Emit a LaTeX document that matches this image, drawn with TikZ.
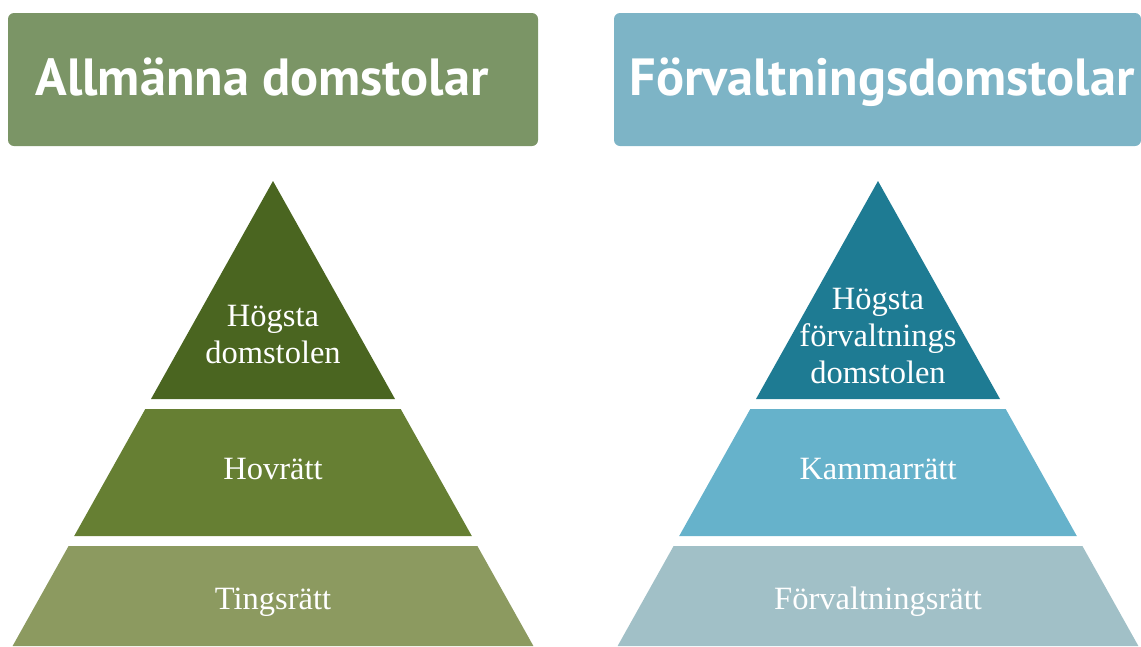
\documentclass[tikz,border=0pt]{standalone}
\usepackage{fontspec}
\usetikzlibrary{fit}
\setmainfont{Liberation Serif}
\newfontfamily\headfont{PT Sans}

\definecolor{allmhead}{HTML}{7B9566}
\definecolor{allmtop}{HTML}{4A6520}
\definecolor{allmmid}{HTML}{667F33}
\definecolor{allmlow}{HTML}{8C9A60}
\definecolor{forvhead}{HTML}{7DB4C6}
\definecolor{forvtop}{HTML}{1E7B93}
\definecolor{forvmid}{HTML}{66B2CB}
\definecolor{forvlow}{HTML}{A1C0C7}

\begin{document}
\begin{tikzpicture}[x=1pt, y=-1pt,
    headbox/.style={fill=#1, rounded corners=6pt, inner sep=0pt},
    headtext/.style={text=white, font=\headfont\bfseries\fontsize{52.3}{52}\selectfont, inner sep=0pt, anchor=base},
    tiertext/.style={text=white, font=\fontsize{32.5}{37}\selectfont, align=center, inner sep=0pt, anchor=base}]
    \useasboundingbox (0,0) rectangle (1141,646);

    \node[headbox=allmhead, fit={(8,13) (538,146)}] (allm) {};
    \node[headbox=forvhead, fit={(614,13) (1141,146)}] (forv) {};
    \node[headtext] (allmt) at (262,95) {Allmänna domstolar};
    \node[headtext] (forvt) at (882,95) {Förvaltningsdomstolar};

    \fill[allmtop] (273,181) -- (395,399) -- (151,399) -- cycle;
    \fill[allmmid] (145.3,409) -- (400.7,409) -- (471.8,536) -- (74.2,536) -- cycle;
    \fill[allmlow] (68.6,546) -- (477.4,546) -- (533.4,646) -- (12.6,646) -- cycle;

    \fill[forvtop] (878,181) -- (1000,399) -- (756,399) -- cycle;
    \fill[forvmid] (750.3,409) -- (1005.7,409) -- (1076.8,536) -- (679.2,536) -- cycle;
    \fill[forvlow] (673.6,546) -- (1082.4,546) -- (1138.4,646) -- (617.6,646) -- cycle;

    \node[tiertext] (hd) at (273,363) {Högsta\\domstolen};
    \node[tiertext] (hov) at (273,479) {Hovrätt};
    \node[tiertext] (ting) at (273,609) {Tingsrätt};

    \node[tiertext] (hfd) at (878,383) {Högsta\\förvaltnings\\domstolen};
    \node[tiertext] (kam) at (878,479) {Kammarrätt};
    \node[tiertext] (fr) at (878,609) {Förvaltningsrätt};
\end{tikzpicture}
\end{document}
